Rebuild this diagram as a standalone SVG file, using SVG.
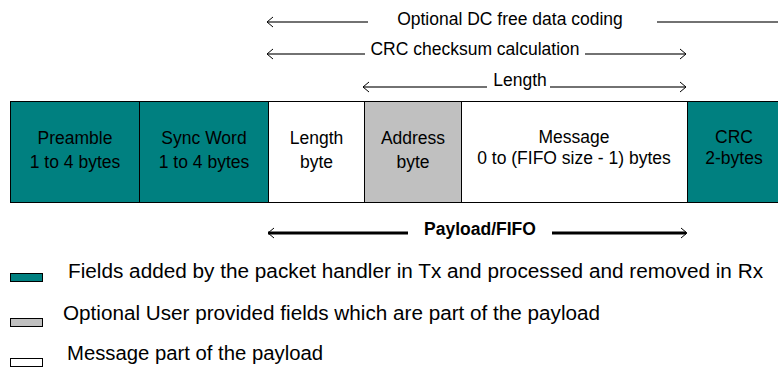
<svg xmlns="http://www.w3.org/2000/svg" width="778" height="368" viewBox="0 0 778 368">
<defs>
<style>
text{font-family:"Liberation Sans",Arial,sans-serif;font-size:17.5px;fill:#000}
.c{text-anchor:middle}
.b{font-weight:bold}
.lg{font-size:20px}
.box{stroke:#000;stroke-width:1}
.teal{fill:#008080}
.gray{fill:#c0c0c0}
.white{fill:#fff}
.ln{stroke:#444;stroke-width:1.3;fill:none}
.thick{stroke:#000;stroke-width:3;fill:none}
.head{stroke:#000;stroke-width:1;fill:none}
</style>
</defs>
<g id="connectors">
<path class="ln" d="M267,22 H368 M657,22 H778"/>
<path class="head" d="M273,17 L267,22 L273,27"/>
<path class="ln" d="M267,54 H365 M585,54 H686"/>
<path class="head" d="M273,49 L267,54 L273,59 M680,49 L686,54 L680,59"/>
<path class="ln" d="M363,87 H487 M550,87 H686"/>
<path class="head" d="M369,82 L363,87 L369,92 M680,82 L686,87 L680,92"/>
<path class="thick" d="M268,233 H408 M552,233 H686"/>
<path class="head" d="M274,228 L268,233 L274,238 M681,228 L687,233 L681,238"/>
</g>
<g id="labels">
<text class="c" x="510" y="25">Optional DC free data coding</text>
<text class="c" x="475" y="55">CRC checksum calculation</text>
<text class="c" x="520" y="86">Length</text>
<text class="c b" x="480" y="235">Payload/FIFO</text>
</g>
<g id="preamble"><rect class="box teal" x="10.5" y="101.5" width="129" height="101"/><text class="c" x="75" y="144">Preamble</text><text class="c" x="75" y="168">1 to 4 bytes</text></g>
<g id="sync"><rect class="box teal" x="139.5" y="101.5" width="129" height="101"/><text class="c" x="204" y="144">Sync Word</text><text class="c" x="204" y="168">1 to 4 bytes</text></g>
<g id="length"><rect class="box white" x="268.5" y="101.5" width="96" height="101"/><text class="c" x="316.5" y="144">Length</text><text class="c" x="316.5" y="168">byte</text></g>
<g id="address"><rect class="box gray" x="364.5" y="101.5" width="97" height="101"/><text class="c" x="413" y="144">Address</text><text class="c" x="413" y="168">byte</text></g>
<g id="message"><rect class="box white" x="461.5" y="101.5" width="226" height="101"/><text class="c" x="574" y="143">Message</text><text class="c" x="574" y="164">0 to (FIFO size - 1) bytes</text></g>
<g id="crc"><rect class="box teal" x="687.5" y="101.5" width="94" height="101"/><text class="c" x="734" y="143">CRC</text><text class="c" x="734" y="164">2-bytes</text></g>
<g id="legend">
<rect class="box teal" x="10.5" y="273.5" width="32" height="8"/>
<text class="lg" x="68" y="278" textLength="695" lengthAdjust="spacingAndGlyphs">Fields added by the packet handler in Tx and processed and removed in Rx</text>
<rect class="box gray" x="10.5" y="318.5" width="32" height="8"/>
<text class="lg" x="63" y="320" textLength="537" lengthAdjust="spacingAndGlyphs">Optional User provided fields which are part of the payload</text>
<rect class="box white" x="10.5" y="358.5" width="32" height="8"/>
<text class="lg" x="67" y="360" textLength="256" lengthAdjust="spacingAndGlyphs">Message part of the payload</text>
</g>
</svg>
